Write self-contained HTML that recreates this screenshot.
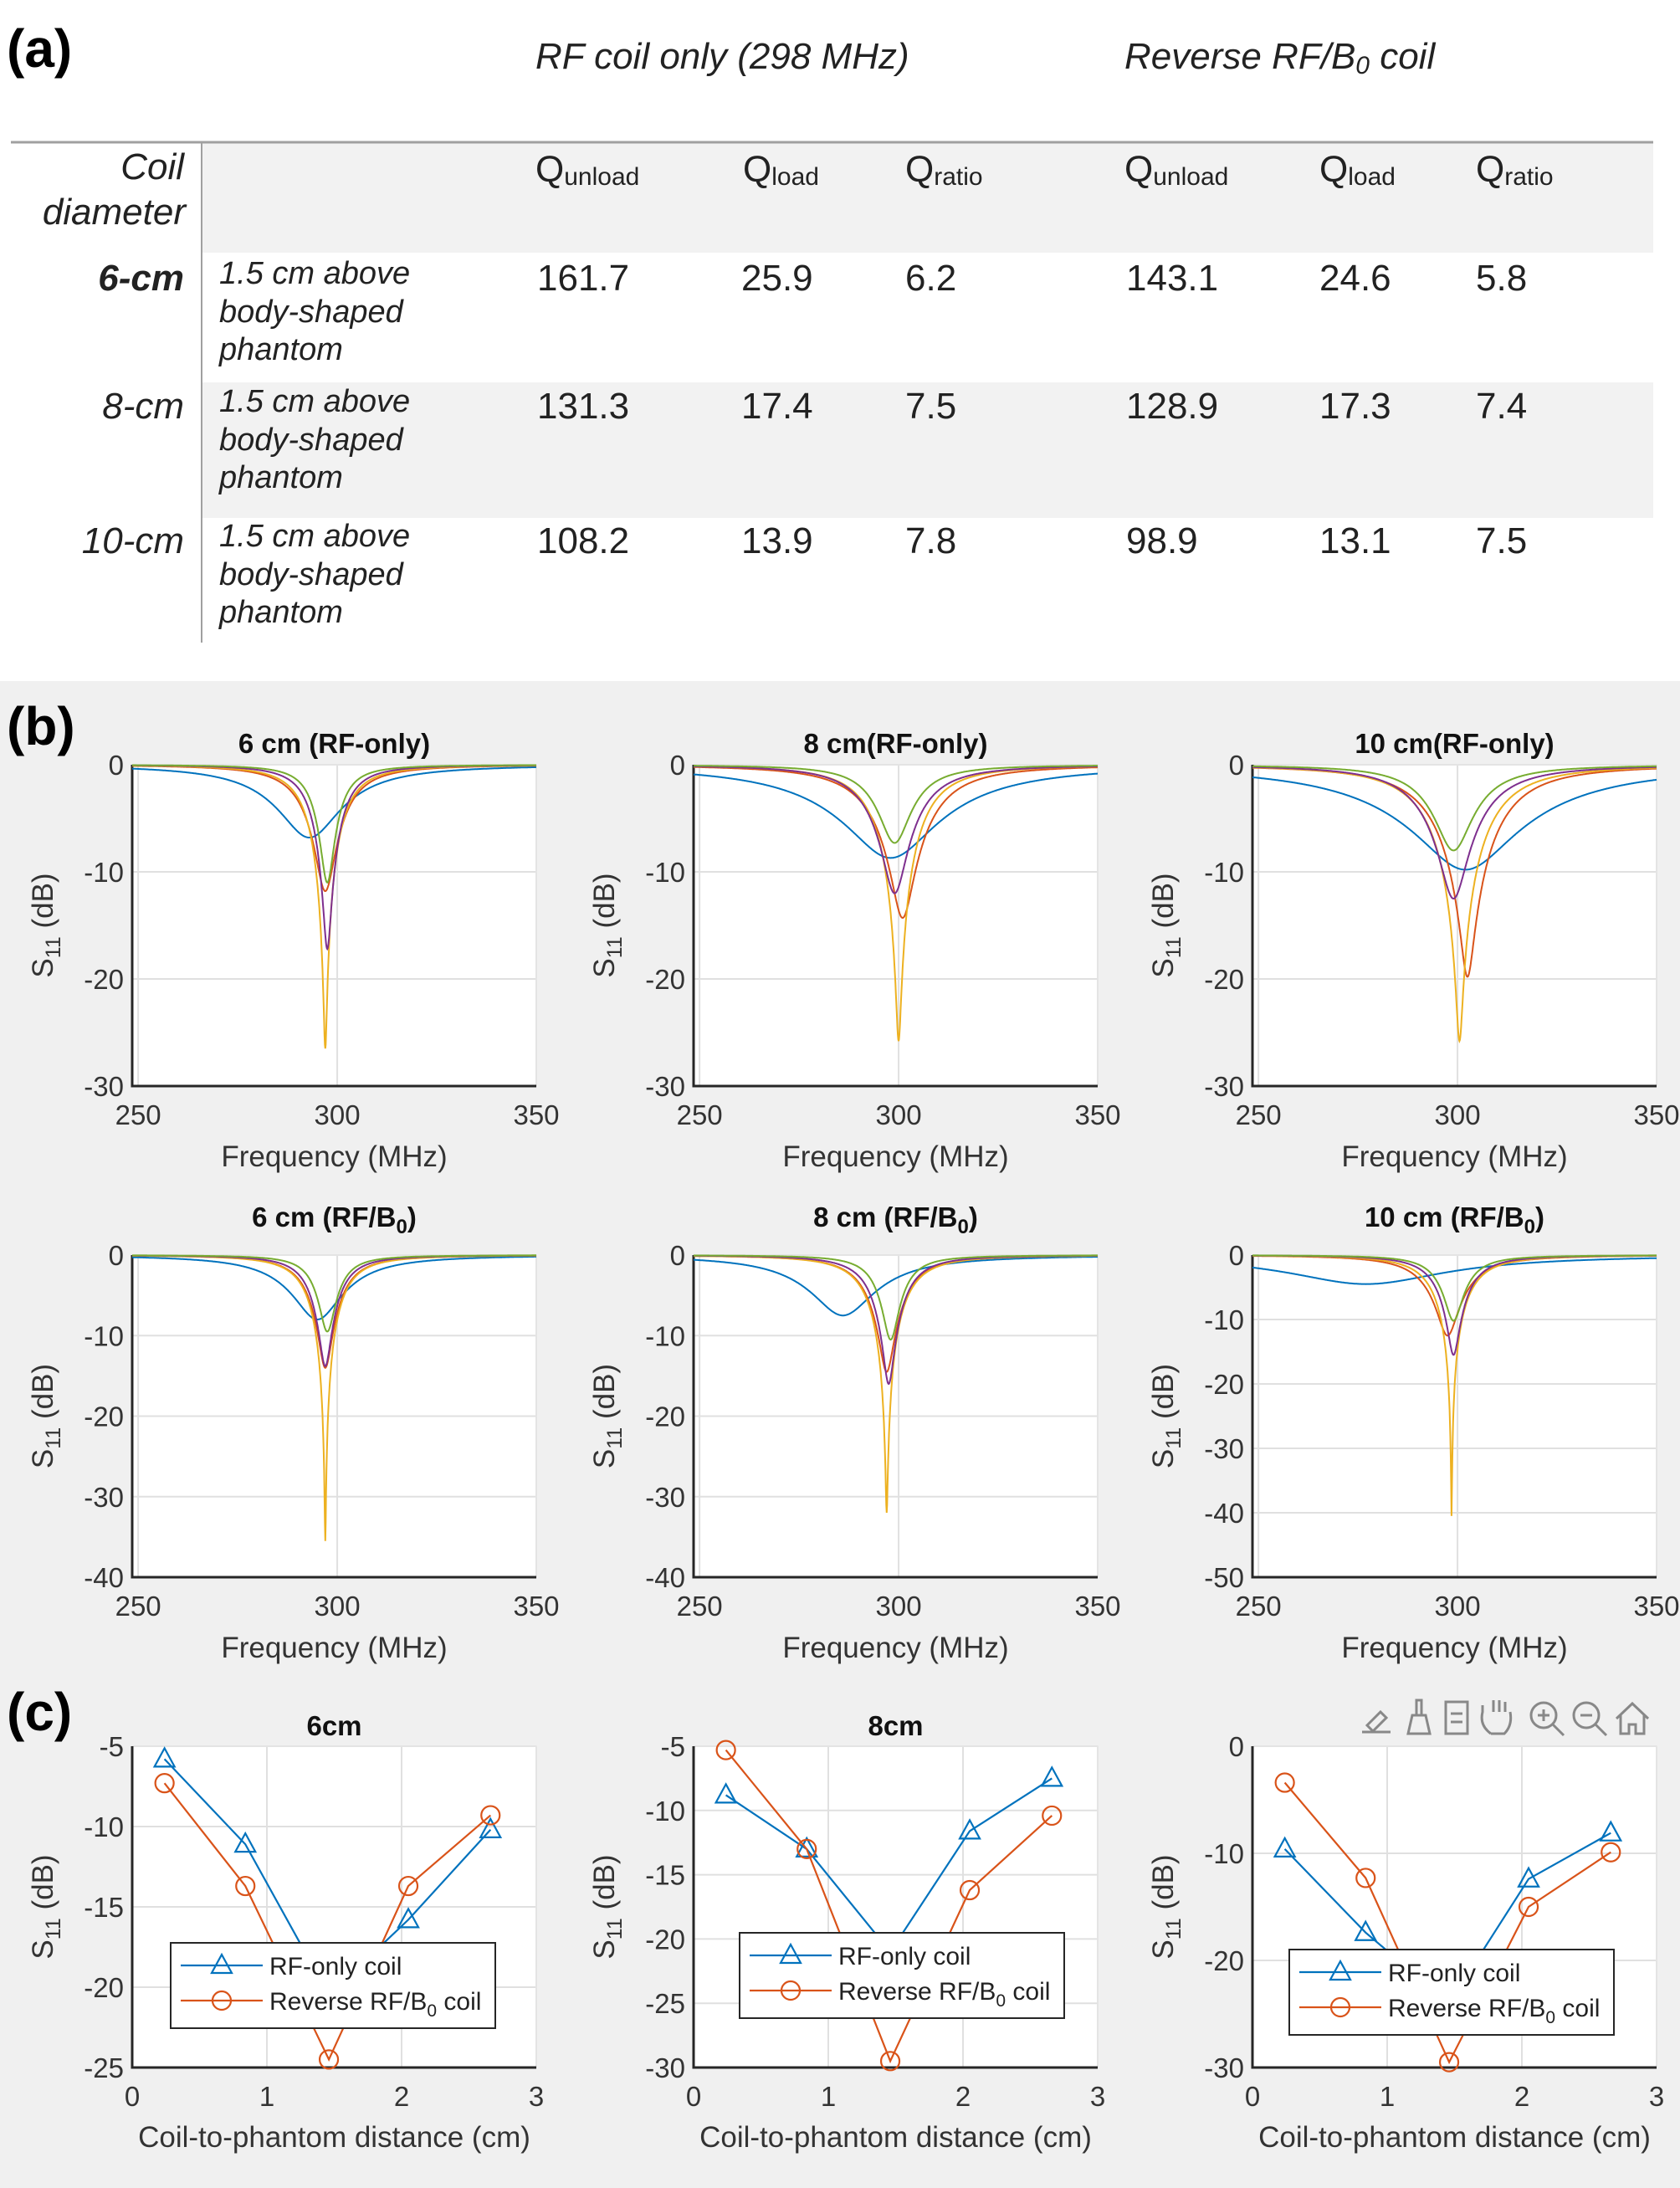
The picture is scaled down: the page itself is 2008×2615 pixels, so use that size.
<!DOCTYPE html>
<html><head><meta charset="utf-8">
<style>
html,body{margin:0;padding:0;background:#fff;}
svg{display:block;font-family:"Liberation Sans",Arial,sans-serif;}
</style></head>
<body>
<svg id="fig" width="2008" height="2615" viewBox="0 0 2008 2615" xmlns="http://www.w3.org/2000/svg">
<rect x="0" y="0" width="2008" height="2615" fill="#ffffff"/>
<rect x="0" y="814" width="2008" height="1801" fill="#f0f0f0"/>
<!-- Panel (a) table -->
<g>
<text x="8" y="80" font-size="64" font-weight="bold">(a)</text>
<text x="640" y="82" font-size="44" font-style="italic" fill="#222">RF coil only (298 MHz)</text>
<text x="1344" y="82" font-size="44" font-style="italic" fill="#222">Reverse RF/B<tspan font-size="30" dy="6">0</tspan><tspan dy="-6"> coil</tspan></text>
<rect x="241" y="171" width="1735" height="131" fill="#f2f2f2"/>
<rect x="241" y="457" width="1735" height="162" fill="#f2f2f2"/>
<line x1="13" y1="170" x2="1976" y2="170" stroke="#a0a0a0" stroke-width="3"/>
<line x1="241" y1="171" x2="241" y2="768" stroke="#a0a0a0" stroke-width="2"/>
<text x="220" y="214" font-size="44" font-style="italic" text-anchor="end" fill="#222">Coil</text>
<text x="222" y="268" font-size="44" font-style="italic" text-anchor="end" fill="#222">diameter</text>
<g font-size="44" fill="#222">
<text x="640" y="217">Q<tspan font-size="30" dy="4">unload</tspan></text>
<text x="888" y="217">Q<tspan font-size="30" dy="4">load</tspan></text>
<text x="1082" y="217">Q<tspan font-size="30" dy="4">ratio</tspan></text>
<text x="1344" y="217">Q<tspan font-size="30" dy="4">unload</tspan></text>
<text x="1577" y="217">Q<tspan font-size="30" dy="4">load</tspan></text>
<text x="1764" y="217">Q<tspan font-size="30" dy="4">ratio</tspan></text>
</g>
<g fill="#222">
<text x="220" y="347" font-size="44" font-style="italic" font-weight="bold" text-anchor="end">6-cm</text>
<text x="220" y="500" font-size="44" font-style="italic" text-anchor="end">8-cm</text>
<text x="220" y="661" font-size="44" font-style="italic" text-anchor="end">10-cm</text>
<g font-size="38" font-style="italic">
<text x="262" y="339">1.5 cm above</text><text x="262" y="385">body-shaped</text><text x="262" y="430">phantom</text>
<text x="262" y="492">1.5 cm above</text><text x="262" y="538">body-shaped</text><text x="262" y="583">phantom</text>
<text x="262" y="653">1.5 cm above</text><text x="262" y="699">body-shaped</text><text x="262" y="744">phantom</text>
</g>
<g font-size="44">
<text x="642" y="347">161.7</text><text x="886" y="347">25.9</text><text x="1082" y="347">6.2</text>
<text x="1346" y="347">143.1</text><text x="1577" y="347">24.6</text><text x="1764" y="347">5.8</text>
<text x="642" y="500">131.3</text><text x="886" y="500">17.4</text><text x="1082" y="500">7.5</text>
<text x="1346" y="500">128.9</text><text x="1577" y="500">17.3</text><text x="1764" y="500">7.4</text>
<text x="642" y="661">108.2</text><text x="886" y="661">13.9</text><text x="1082" y="661">7.8</text>
<text x="1346" y="661">98.9</text><text x="1577" y="661">13.1</text><text x="1764" y="661">7.5</text>
</g>
</g>
</g>
<text x="8" y="890" font-size="64" font-weight="bold">(b)</text>
<text x="8" y="2068" font-size="64" font-weight="bold">(c)</text>
<g id="toolbar" fill="none" stroke="#888" stroke-width="3">
<path d="M1628 2070 h34 M1634 2062 l16 -16 l7 7 l-16 16 z"/>
<path d="M1683 2072 h26 l-5 -22 h-16 z M1693 2050 v-18 h6 v18"/>
<path d="M1728 2034 h26 v38 h-26 z M1734 2048 h14 M1734 2058 h14"/>
<path d="M1782 2072 q-14 -10 -10 -26 v-8 M1782 2072 h16 q10 -10 7 -26 M1785 2046 v-14 M1792 2046 v-14 M1799 2046 v-12"/>
<circle cx="1845" cy="2050" r="15"/><path d="M1856 2061 l13 13 M1838 2050 h14 M1845 2043 v14"/>
<circle cx="1896" cy="2050" r="15"/><path d="M1907 2061 l13 13 M1889 2050 h14"/>
<path d="M1932 2054 l19 -18 l19 18 M1937 2050 v22 h10 v-11 h8 v11 h10 v-22"/>
</g>
<g id="plots"></g>
</svg>
<script>
// ---------- Panel (b) data: resonance parameters per curve ----------
// series order: blue, orange, yellow, purple, green
const bFreqRange = [248.5, 350];
const bXTicks = [250, 300, 350];
const bTitles = ["6 cm (RF-only)", "8 cm(RF-only)", "10 cm(RF-only)", "6 cm (RF/B0)", "8 cm (RF/B0)", "10 cm (RF/B0)"];
const bYMin = [-30, -30, -30, -40, -40, -50];
const bYTicks1 = [0, -10, -20, -30];
const bYTicks2 = [0, -10, -20, -30, -40];
const bYTicks3 = [0, -10, -20, -30, -40, -50];
// resonance center frequencies (MHz)
const bCenters = [
  [293, 297, 297, 297.5, 297.5],
  [298, 301, 300, 299, 299],
  [302, 302.5, 300.5, 299, 299],
  [295, 297, 297, 297, 297.5],
  [286, 297, 297, 297.5, 298],
  [277, 297.5, 298.5, 299, 299]
];
// minimum S11 (dB)
const bDepths = [
  [-6.8, -11.8, -26.5, -17.2, -11],
  [-8.7, -14.3, -25.8, -12, -7.3],
  [-9.8, -19.8, -25.8, -12.5, -8],
  [-8, -14, -35.5, -13.8, -9.5],
  [-7.5, -14.5, -32, -16, -10.5],
  [-4.5, -12.5, -40.5, -15.5, -10.2]
];
// half bandwidths (MHz)
const bWidths = [
  [15, 8, 7, 6, 5],
  [26, 12, 10, 10, 8],
  [32, 14, 13, 12, 10],
  [13, 7, 7, 6, 5],
  [16, 8, 8, 7, 5.5],
  [32, 9, 8, 7, 6]
];
const bColors = ["#0072BD", "#D95319", "#EDB120", "#7E2F8E", "#77AC30"];

// ---------- Panel (c) data ----------
const cDistances = [0.24, 0.84, 1.46, 2.05, 2.66];
const cTitles = ["6cm", "8cm", ""];
const cRFOnly = [
  [-5.8, -11.1, -20.5, -15.8, -10.2],
  [-8.8, -13, -21, -11.6, -7.5],
  [-9.6, -17.4, -24, -12.4, -8.1]
];
const cReverse = [
  [-7.3, -13.7, -24.5, -13.7, -9.3],
  [-5.3, -13, -29.5, -16.2, -10.4],
  [-3.4, -12.3, -29.5, -15, -9.9]
];
const cYMax = [-5, -5, 0];
const cYMin = [-25, -30, -30];
const cYTicksA = [-5, -10, -15, -20, -25];
const cYTicksB = [-5, -10, -15, -20, -25, -30];
const cYTicksC = [0, -10, -20, -30];
const cXTicks = [0, 1, 2, 3];

const NS = "http://www.w3.org/2000/svg";
const root = document.getElementById("plots");
function mk(tag, attrs, parent) {
  const e = document.createElementNS(NS, tag);
  for (const k in attrs) e.setAttribute(k, attrs[k]);
  (parent || root).appendChild(e);
  return e;
}
function txt(s, attrs, parent) { const t = mk("text", attrs, parent); t.textContent = s; return t; }
function titleWithSub(str, x, y, parent) {
  const t = mk("text", {x: x, y: y, "font-size": 33, "font-weight": "bold", "text-anchor": "middle", fill: "#111"}, parent);
  const i = str.indexOf("B0");
  if (i < 0) { t.textContent = str; return t; }
  const a = document.createElementNS(NS, "tspan"); a.textContent = str.slice(0, i + 1); t.appendChild(a);
  const b = document.createElementNS(NS, "tspan"); b.setAttribute("font-size", 24); b.setAttribute("dy", 8); b.textContent = "0"; t.appendChild(b);
  const c = document.createElementNS(NS, "tspan"); c.setAttribute("dy", -8); c.textContent = str.slice(i + 2); t.appendChild(c);
  return t;
}
function axes(g, L, T, W, H, xs, ys, xticks, yticks) {
  mk("rect", {x: L, y: T, width: W, height: H, fill: "#fff"}, g);
  xticks.forEach(v => {
    const gl = mk("line", {x1: xs(v), x2: xs(v), y1: T, y2: T + H, stroke: "#e0e0e0", "stroke-width": 2}, g);
    
    
    const tl = txt(String(v), {x: xs(v), y: T + H + 46, "font-size": 33, "text-anchor": "middle", fill: "#333"}, g);
    
    
  });
  yticks.forEach(v => {
    const gl = mk("line", {x1: L, x2: L + W, y1: ys(v), y2: ys(v), stroke: "#e0e0e0", "stroke-width": 2}, g);
    
    
    const tl = txt(String(v), {x: L - 10, y: ys(v) + 12, "font-size": 33, "text-anchor": "end", fill: "#333"}, g);
    
    
  });
  mk("rect", {x: L, y: T, width: W, height: H, fill: "none", stroke: "#e6e6e6", "stroke-width": 1.5}, g);
  mk("path", {d: `M${L} ${T} V${T + H} H${L + W}`, fill: "none", stroke: "#262626", "stroke-width": 3}, g);
  const yl = mk("text", {x: 0, y: 0, "font-size": 35, "text-anchor": "middle", fill: "#333", transform: `translate(${L - 95},${T + H / 2}) rotate(-90)`}, g);
  
  
  const s1 = document.createElementNS(NS, "tspan"); s1.textContent = "S"; yl.appendChild(s1);
  const s2 = document.createElementNS(NS, "tspan"); s2.setAttribute("font-size", 25); s2.setAttribute("dy", 9); s2.textContent = "11"; yl.appendChild(s2);
  const s3 = document.createElementNS(NS, "tspan"); s3.setAttribute("dy", -9); s3.textContent = " (dB)"; yl.appendChild(s3);
}

const plotLefts = [158, 829, 1497];
const plotW = 483;

// ---------- Panel (b) ----------
const bRows = [{T: 914, H: 384, titleY: 900}, {T: 1500, H: 385, titleY: 1466}];
for (let p = 0; p < 6; p++) {
  const row = bRows[Math.floor(p / 3)], L = plotLefts[p % 3], T = row.T, H = row.H;
  const g = mk("g", {});
  
  
  const xs = v => L + (v - bFreqRange[0]) / (bFreqRange[1] - bFreqRange[0]) * plotW;
  const ys = v => T + (0 - v) / (0 - bYMin[p]) * H;
  const yt = bYMin[p] === -30 ? bYTicks1 : (bYMin[p] === -40 ? bYTicks2 : bYTicks3);
  axes(g, L, T, plotW, H, xs, ys, bXTicks, yt);
  const tt = titleWithSub(bTitles[p], L + plotW / 2, row.titleY, g);
  
  
  const xl = txt("Frequency (MHz)", {x: L + plotW / 2, y: T + H + 96, "font-size": 35, "text-anchor": "middle", fill: "#333"}, g);
  
  
  for (let s = 0; s < 5; s++) {
    const f0 = bCenters[p][s], d = bDepths[p][s], hw = bWidths[p][s];
    const gmin = 1 - Math.pow(10, d / 10);
    let dStr = "";
    for (let f = bFreqRange[0]; f <= 350.001; f += 0.1) {
      const u = (f - f0) / hw;
      const val = 10 * Math.log10(1 - gmin / (1 + u * u));
      dStr += (dStr ? "L" : "M") + xs(f).toFixed(1) + " " + ys(val).toFixed(1);
    }
    const path = mk("path", {d: dStr, fill: "none", stroke: bColors[s], "stroke-width": 2}, g);
    
    
  }
}

// ---------- Panel (c) ----------
const cT = 2087, cH = 384;
const legendPos = [[204, 2322], [884, 2310], [1541, 2330]];
function tri(g, x, y, color) {
  return mk("path", {d: `M${x} ${y - 13} L${x + 12} ${y + 9} L${x - 12} ${y + 9} Z`, fill: "none", stroke: color, "stroke-width": 2.2}, g);
}
function circ(g, x, y, color) {
  return mk("circle", {cx: x, cy: y, r: 11, fill: "none", stroke: color, "stroke-width": 2.2}, g);
}
for (let p = 0; p < 3; p++) {
  const L = plotLefts[p];
  const g = mk("g", {});
  
  
  const xs = v => L + v / 3 * plotW;
  const ys = v => cT + (cYMax[p] - v) / (cYMax[p] - cYMin[p]) * cH;
  const yt = p === 0 ? cYTicksA : (p === 1 ? cYTicksB : cYTicksC);
  axes(g, L, cT, plotW, cH, xs, ys, cXTicks, yt);
  if (cTitles[p]) {
    const tt = titleWithSub(cTitles[p], L + plotW / 2, 2074, g);
    
    
  }
  const xl = txt("Coil-to-phantom distance (cm)", {x: L + plotW / 2, y: 2566, "font-size": 35, "text-anchor": "middle", fill: "#333"}, g);
  
  
  const series = [[cRFOnly[p], "#0072BD", tri, 'rf-only-line'], [cReverse[p], "#D95319", circ, 'reverse-coil-line']];
  series.forEach(([vals, col, mark, nm]) => {
    const d = vals.map((v, i) => (i ? "L" : "M") + xs(cDistances[i]).toFixed(1) + " " + ys(v).toFixed(1)).join("");
    const pl = mk("path", {d: d, fill: "none", stroke: col, "stroke-width": 2.2}, g);
    
    
    vals.forEach((v, i) => {
      const m = mark(g, xs(cDistances[i]), ys(v), col);
      
      
    });
  });
  // legend
  const [lx, ly] = legendPos[p];
  const lg = mk("g", {}, g);
  
  
  mk("rect", {x: lx, y: ly, width: 388, height: 102, fill: "#fff", stroke: "#262626", "stroke-width": 2}, lg);
  mk("line", {x1: lx + 12, x2: lx + 110, y1: ly + 27, y2: ly + 27, stroke: "#0072BD", "stroke-width": 2.2}, lg);
  tri(lg, lx + 61, ly + 27, "#0072BD");
  const e1 = txt("RF-only coil", {x: lx + 118, y: ly + 38, "font-size": 30, fill: "#222"}, lg);
  
  
  mk("line", {x1: lx + 12, x2: lx + 110, y1: ly + 69, y2: ly + 69, stroke: "#D95319", "stroke-width": 2.2}, lg);
  circ(lg, lx + 61, ly + 69, "#D95319");
  const e2 = mk("text", {x: lx + 118, y: ly + 80, "font-size": 30, fill: "#222"}, lg);
  
  
  const a = document.createElementNS(NS, "tspan"); a.textContent = "Reverse RF/B"; e2.appendChild(a);
  const b = document.createElementNS(NS, "tspan"); b.setAttribute("font-size", 21); b.setAttribute("dy", 8); b.textContent = "0"; e2.appendChild(b);
  const c = document.createElementNS(NS, "tspan"); c.setAttribute("dy", -8); c.textContent = " coil"; e2.appendChild(c);
}
</script>
</body></html>
